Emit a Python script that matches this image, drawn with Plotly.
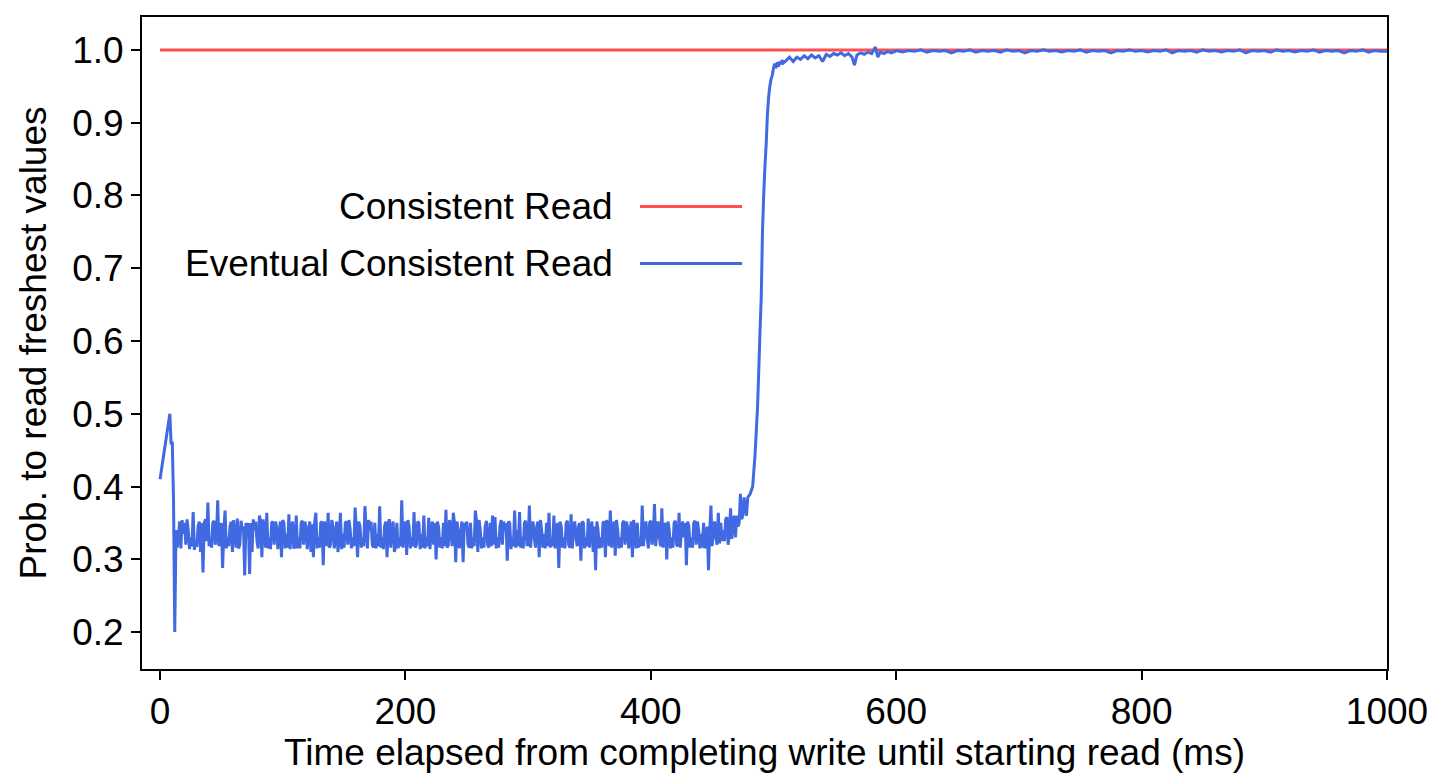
import plotly.graph_objects as go

# ---- data ----
consistent_x = [0, 1000]
consistent_y = [1.0, 1.0]

early_x = [0, 8, 9, 10, 11, 12]
early_y = [0.41, 0.50, 0.46, 0.46, 0.38, 0.20]

# noisy plateau, odd milliseconds 13..479
flat_odd_x = list(range(13, 480, 2))
flat_odd_y = [
    0.34, 0.33, 0.315, 0.335, 0.32, 0.34, 0.33, 0.365, 0.325, 0.345,
    0.31, 0.282, 0.355, 0.378, 0.33, 0.35, 0.32, 0.381, 0.34, 0.288,
    0.367, 0.33, 0.345, 0.31, 0.335, 0.356, 0.32, 0.34, 0.278, 0.33,
    0.28, 0.31, 0.34, 0.325, 0.36, 0.303, 0.34, 0.364, 0.33, 0.35,
    0.32, 0.345, 0.33, 0.303, 0.35, 0.335, 0.362, 0.34, 0.315, 0.36,
    0.33, 0.35, 0.32, 0.345, 0.335, 0.31, 0.303, 0.364, 0.33, 0.35,
    0.292, 0.34, 0.364, 0.32, 0.345, 0.33, 0.31, 0.364, 0.335, 0.35,
    0.32, 0.34, 0.33, 0.371, 0.303, 0.345, 0.33, 0.373, 0.315, 0.34,
    0.32, 0.35, 0.335, 0.373, 0.33, 0.345, 0.303, 0.355, 0.34, 0.31,
    0.35, 0.33, 0.381, 0.34, 0.306, 0.345, 0.33, 0.365, 0.32, 0.35,
    0.335, 0.36, 0.33, 0.357, 0.34, 0.32, 0.30, 0.345, 0.33, 0.35,
    0.368, 0.32, 0.345, 0.364, 0.296, 0.34, 0.33, 0.296, 0.345, 0.32,
    0.35, 0.33, 0.367, 0.31, 0.34, 0.33, 0.345, 0.32, 0.35, 0.36,
    0.358, 0.33, 0.345, 0.32, 0.34, 0.298, 0.35, 0.33, 0.367, 0.34,
    0.365, 0.33, 0.35, 0.32, 0.374, 0.34, 0.33, 0.345, 0.303, 0.34,
    0.335, 0.35, 0.364, 0.33, 0.36, 0.34, 0.288, 0.345, 0.33, 0.35,
    0.32, 0.362, 0.34, 0.33, 0.345, 0.298, 0.35, 0.33, 0.356, 0.34,
    0.31, 0.285, 0.34, 0.33, 0.35, 0.303, 0.345, 0.367, 0.33, 0.305,
    0.34, 0.33, 0.35, 0.32, 0.345, 0.335, 0.303, 0.34, 0.35, 0.33,
    0.374, 0.34, 0.33, 0.35, 0.32, 0.376, 0.34, 0.33, 0.37, 0.345,
    0.30, 0.34, 0.33, 0.35, 0.32, 0.364, 0.34, 0.33, 0.292, 0.345,
    0.33, 0.35, 0.32, 0.34, 0.335, 0.35, 0.33, 0.285, 0.374, 0.34,
    0.33, 0.364, 0.35, 0.34, 0.355, 0.32, 0.37, 0.35, 0.33, 0.345,
    0.39, 0.36, 0.37, 0.385,
]

# noisy plateau, even milliseconds 14..478
flat_even_x = list(range(14, 479, 2))
flat_even_y = [
    0.316, 0.352, 0.354, 0.35, 0.355, 0.314, 0.318, 0.313, 0.317, 0.352,
    0.35, 0.35, 0.325, 0.318, 0.316, 0.353, 0.33, 0.318, 0.35, 0.34,
    0.315, 0.318, 0.352, 0.354, 0.316, 0.315, 0.353, 0.345, 0.35, 0.35,
    0.35, 0.355, 0.352, 0.315, 0.352, 0.355, 0.316, 0.315, 0.314, 0.352,
    0.352, 0.314, 0.352, 0.354, 0.315, 0.316, 0.314, 0.352, 0.318, 0.315,
    0.315, 0.353, 0.352, 0.314, 0.352, 0.348, 0.35, 0.315, 0.316, 0.352,
    0.352, 0.318, 0.316, 0.354, 0.315, 0.352, 0.33, 0.314, 0.316, 0.352,
    0.354, 0.315, 0.318, 0.34, 0.352, 0.316, 0.318, 0.34, 0.354, 0.352,
    0.316, 0.315, 0.318, 0.316, 0.314, 0.352, 0.35, 0.316, 0.352, 0.318,
    0.315, 0.318, 0.316, 0.352, 0.354, 0.315, 0.318, 0.316, 0.352, 0.314,
    0.316, 0.315, 0.318, 0.314, 0.352, 0.35, 0.352, 0.316, 0.315, 0.318,
    0.316, 0.354, 0.318, 0.35, 0.352, 0.315, 0.352, 0.35, 0.352, 0.316,
    0.315, 0.318, 0.352, 0.354, 0.315, 0.316, 0.353, 0.316, 0.318, 0.32,
    0.315, 0.316, 0.354, 0.352, 0.35, 0.352, 0.314, 0.318, 0.316, 0.318,
    0.316, 0.315, 0.353, 0.32, 0.316, 0.352, 0.316, 0.352, 0.354, 0.316,
    0.315, 0.318, 0.316, 0.318, 0.315, 0.35, 0.352, 0.316, 0.315, 0.353,
    0.316, 0.315, 0.352, 0.318, 0.35, 0.352, 0.315, 0.318, 0.316, 0.352,
    0.345, 0.352, 0.315, 0.316, 0.352, 0.354, 0.318, 0.316, 0.352, 0.354,
    0.315, 0.316, 0.353, 0.352, 0.315, 0.352, 0.354, 0.315, 0.316, 0.318,
    0.318, 0.352, 0.315, 0.353, 0.33, 0.318, 0.352, 0.318, 0.316, 0.35,
    0.352, 0.315, 0.316, 0.353, 0.318, 0.316, 0.352, 0.35, 0.352, 0.316,
    0.316, 0.353, 0.352, 0.315, 0.316, 0.315, 0.345, 0.34, 0.318, 0.352,
    0.32, 0.322, 0.325, 0.325, 0.358, 0.335, 0.328, 0.36, 0.36, 0.35,
    0.355, 0.385, 0.36,
]

rise_x = [481, 483, 485, 487, 488, 489, 490, 491, 492, 493, 494, 495, 496,
          497, 498, 499, 500, 501, 502, 503, 504, 505, 506, 507, 508]
rise_y = [0.39, 0.40, 0.445, 0.51, 0.56, 0.614, 0.66, 0.75, 0.80, 0.84, 0.87,
          0.91, 0.935, 0.95, 0.96, 0.965, 0.975, 0.981, 0.975, 0.983, 0.977,
          0.984, 0.98, 0.986, 0.982]

settle_x = [510, 513, 516, 519, 522, 525, 528, 531, 534, 537, 540, 543, 546,
            549, 552, 555, 558, 561, 564, 566, 568, 571, 574, 577, 580, 583,
            585, 587, 590, 593, 596, 599]
settle_y = [0.985, 0.99, 0.984, 0.99, 0.987, 0.992, 0.988, 0.993, 0.989, 0.992,
            0.984, 0.994, 0.991, 0.995, 0.993, 0.996, 0.992, 0.995, 0.99, 0.979,
            0.993, 0.996, 0.994, 0.997, 0.995, 1.004, 0.99, 0.997, 0.995, 0.998,
            0.996, 0.998]

tail_x = list(range(600, 1001, 5))
tail_y = [
    0.999, 0.997, 0.999, 0.998, 1.0, 0.997, 0.999, 0.998, 0.999, 0.996,
    0.999, 0.998, 1.0, 0.997, 0.999, 0.998, 0.999, 0.997, 1.0, 0.998,
    0.999, 0.996, 0.999, 0.998, 1.0, 0.998, 0.999, 0.997, 0.999, 0.998,
    1.0, 0.997, 0.999, 0.998, 0.999, 0.996, 0.999, 0.998, 1.0, 0.998,
    0.999, 0.997, 0.999, 0.998, 1.0, 0.996, 0.999, 0.998, 0.999, 0.997,
    1.0, 0.998, 0.999, 0.997, 0.999, 0.998, 1.0, 0.996, 0.999, 0.998,
    0.999, 0.997, 1.0, 0.998, 0.999, 0.997, 0.999, 0.998, 1.0, 0.997,
    0.999, 0.998, 0.999, 0.996, 0.999, 0.998, 1.0, 0.997, 0.999, 0.998,
    0.998,
]

flat_pairs = sorted(zip(flat_odd_x + flat_even_x, flat_odd_y + flat_even_y))
flat_x = [p[0] for p in flat_pairs]
flat_y = [p[1] for p in flat_pairs]

eventual_x = early_x + flat_x + rise_x + settle_x + tail_x
eventual_y = early_y + flat_y + rise_y + settle_y + tail_y

x_ticks = [0, 200, 400, 600, 800, 1000]
y_ticks = [0.2, 0.3, 0.4, 0.5, 0.6, 0.7, 0.8, 0.9, 1.0]

series_names = ["Consistent Read", "Eventual Consistent Read"]
RED = "#ff5050"
BLUE = "#4169e1"
FONT = "Liberation Sans, Arial, Helvetica, sans-serif"
FS = 37

fig = go.Figure()
fig.add_trace(go.Scatter(x=consistent_x, y=consistent_y, mode="lines",
                         name=series_names[0],
                         line=dict(color=RED, width=3)))
fig.add_trace(go.Scatter(x=eventual_x, y=eventual_y, mode="lines",
                         name=series_names[1],
                         line=dict(color=BLUE, width=3, simplify=False)))

# legend drawn manually (text left of line sample, as in the reference)
leg_rows = [0.7095, 0.622]
for name, color, yy in zip(series_names, [RED, BLUE], leg_rows):
    fig.add_annotation(x=0.38, y=yy, xref="paper", yref="paper",
                       text=name, showarrow=False, xanchor="right",
                       yanchor="middle",
                       font=dict(family=FONT, size=FS, color="black"))
    fig.add_shape(type="line", xref="paper", yref="paper",
                  x0=0.400, x1=0.482, y0=yy, y1=yy,
                  line=dict(color=color, width=3))

fig.update_layout(
    width=1429, height=768,
    margin=dict(l=134, r=50, t=7, b=107),
    paper_bgcolor="white", plot_bgcolor="white",
    showlegend=False,
    font=dict(family=FONT, size=FS, color="black"),
)
fig.update_xaxes(
    range=[-14.7, 1000], tickvals=x_ticks,
    ticks="outside", ticklen=9, tickwidth=1.5, tickcolor="black",
    showline=True, linecolor="black", linewidth=2, mirror=True,
    showgrid=False, zeroline=False,
    tickfont=dict(family=FONT, size=FS, color="black"),
    title=dict(text="Time elapsed from completing write until starting read (ms)",
               font=dict(family=FONT, size=FS, color="black"), standoff=4),
)
fig.update_yaxes(
    range=[0.1493, 1.0452], tickvals=y_ticks, tickformat=".1f",
    ticks="outside", ticklen=9, tickwidth=1.5, tickcolor="black",
    showline=True, linecolor="black", linewidth=2, mirror=True,
    showgrid=False, zeroline=False,
    tickfont=dict(family=FONT, size=FS, color="black"),
    title=dict(text="Prob. to read freshest values",
               font=dict(family=FONT, size=FS, color="black"), standoff=14),
)

fig.write_html("out.html")
